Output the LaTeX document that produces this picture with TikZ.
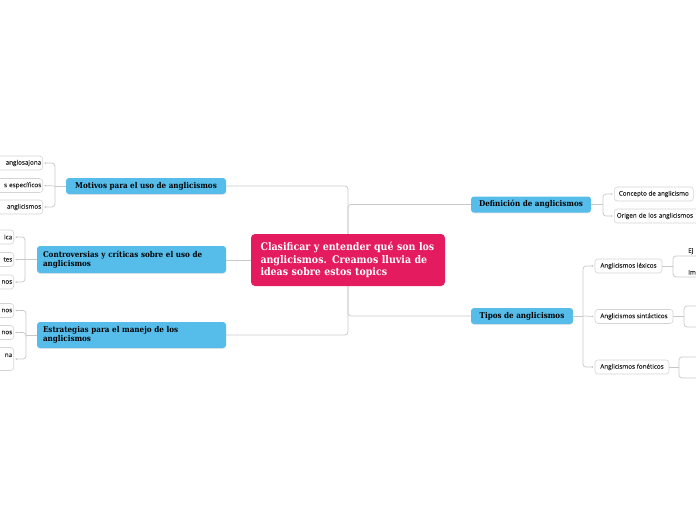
\documentclass[tikz,border=0pt]{standalone}
\usepackage{fontspec}
\setmainfont{Open Sans}
\newfontfamily\slabfont[FakeStretch=0.9]{DejaVu Serif}
\newfontfamily\leaffont[FakeBold=0.3]{Open Sans}
\usetikzlibrary{arrows.meta, shadows}
\definecolor{centralcolor}{RGB}{228, 27, 94}
\definecolor{topiccolor}{RGB}{86, 189, 235}
\definecolor{linkcolor}{RGB}{200, 200, 200}
\definecolor{leafborder}{RGB}{212, 212, 212}
\definecolor{leaftext}{RGB}{40, 40, 40}

\begin{document}
\begin{tikzpicture}[x=1pt, y=-1pt,
    central/.style={fill=centralcolor, rounded corners=4pt, text=white, inner sep=0pt, align=left,
        font=\slabfont\bfseries\fontsize{10.5}{12.5}\selectfont},
    topic/.style={fill=topiccolor, rounded corners=3pt, inner sep=0pt, minimum height=16pt,
        font=\slabfont\bfseries\fontsize{8}{9.3}\selectfont,
        drop shadow={shadow xshift=0pt, shadow yshift=-0.8pt, opacity=0.2}},
    leaf/.style={draw=leafborder, fill=white, rounded corners=3pt, line width=0.6pt, inner sep=0pt,
        minimum height=14pt, text=leaftext, font=\leaffont\fontsize{6.3}{7.5}\selectfont},
    sub/.style={inner sep=0pt, text=leaftext, font=\leaffont\fontsize{6.3}{7.5}\selectfont},
    link/.style={draw=linkcolor, line width=0.7pt, rounded corners=3pt},
    dot/.style={link, -{Circle[length=1.6pt]}, shorten >=1.5pt}
]
    \useasboundingbox (0,0) rectangle (696,520);
    \clip (0,0) rectangle (696,520);

    % Central idea
    \node[central, minimum width=194pt, minimum height=52pt, text width=175pt] (ctr) at (348,260)
        {Clasificar y entender qué son los\\anglicismos. Creamos lluvia de\\ideas sobre estos topics};

    % Main topics
    \node[topic, minimum width=160pt] (mot) at (146,186) {Motivos para el uso de anglicismos};
    \node[topic, minimum width=189pt, minimum height=27pt, text width=177pt, align=left] (con) at (131.5,259.5)
        {Controversias y críticas sobre el uso de\\anglicismos};
    \node[topic, minimum width=189pt, minimum height=26pt, text width=177pt, align=left] (est) at (131.5,335)
        {Estrategias para el manejo de los\\anglicismos};
    \node[topic, minimum width=120pt] (def) at (531,204.5) {Definición de anglicismos};
    \node[topic, minimum width=102pt] (tip) at (522,316) {Tipos de anglicismos};

    % Leaves on the left
    \node[leaf, anchor=east, minimum width=80pt, text width=77pt, align=right] (m1) at (43,163) {anglosajona};
    \node[leaf, anchor=east, minimum width=80pt, text width=77pt, align=right] (m2) at (43,185.5) {s específicos};
    \node[leaf, anchor=east, minimum width=80pt, text width=77pt, align=right] (m3) at (43,207) {anglicismos};

    \node[leaf, anchor=east, minimum width=40pt, text width=37pt, align=right] (c1) at (14,237) {ica};
    \node[leaf, anchor=east, minimum width=40pt, text width=37pt, align=right] (c2) at (14,259.5) {tes};
    \node[leaf, anchor=east, minimum width=40pt, text width=37pt, align=right] (c3) at (14,282) {nos};

    \node[leaf, anchor=east, minimum width=40pt, text width=37pt, align=right] (e1) at (14,310.5) {nos};
    \node[leaf, anchor=east, minimum width=40pt, text width=37pt, align=right] (e2) at (14,332.5) {nos};
    \node[leaf, anchor=east, minimum width=40pt, minimum height=23pt, text width=37pt, align=right] (e3) at (14,359)
        {na\\ \mbox{}};

    % Leaves on the right
    \node[leaf, anchor=west, minimum width=79pt] (d1) at (614,194) {Concepto de anglicismo};
    \node[leaf, anchor=west, minimum width=95pt, text width=90pt, align=left] (d2) at (614,216) {Origen de los anglicismos};

    \node[leaf, minimum width=67pt] (lex) at (628.5,266) {Anglicismos léxicos};
    \node[leaf, minimum width=78pt] (sin) at (634,316.5) {Anglicismos sintácticos};
    \node[leaf, minimum width=74pt] (fon) at (632,367) {Anglicismos fonéticos};

    \node[sub, anchor=south west, minimum width=40pt, minimum height=9pt, text width=30pt, align=left, inner xsep=8pt] (lx1) at (680,256) {Ej};
    \node[sub, anchor=south west, minimum width=40pt, minimum height=9pt, text width=30pt, align=left, inner xsep=8pt] (lx2) at (680,277) {Im};

    % Forks
    \coordinate (motfork) at (55,186);
    \coordinate (confork) at (25,259.5);
    \coordinate (estfork) at (26,335);
    \coordinate (deffork) at (603,204.5);
    \coordinate (tipfork) at (583,316);
    \coordinate (lexfork) at (673,266);
    \coordinate (sinfork) at (684,316.5);
    \coordinate (fonfork) at (679,367);
    \coordinate (sn1) at (710,306);
    \coordinate (sn2) at (710,327);
    \coordinate (fn1) at (710,357);
    \coordinate (fn2) at (710,378);

    % Trunk
    \draw[link] (mot.east) -| (ctr.north);
    \draw[link] (ctr.north) |- (def.west);
    \draw[link] (ctr.south) |- (est.east);
    \draw[link] (ctr.south) |- (tip.west);
    \draw[link] (ctr.west) -- (ctr.west -| con.east);

    % Left brackets
    \draw[link] (mot.west) -- (motfork);
    \draw[dot] (motfork) |- (m1.east);
    \draw[dot] (motfork) -- (m2.east);
    \draw[dot] (motfork) |- (m3.east);

    \draw[link] (con.west) -- (confork);
    \draw[dot] (confork) |- (c1.east);
    \draw[dot] (confork) -- (c2.east);
    \draw[dot] (confork) |- (c3.east);

    \draw[link] (est.west) -- (estfork);
    \draw[dot] (estfork) |- (e1.east);
    \draw[dot] (estfork) |- (e2.east);
    \draw[dot] (estfork) |- (e3.east);

    % Right brackets
    \draw[link] (def.east) -- (deffork);
    \draw[dot] (deffork) |- (d1.west);
    \draw[dot] (deffork) |- (d2.west);

    \draw[link] (tip.east) -- (tipfork);
    \draw[dot] (tipfork) |- (lex.west);
    \draw[dot] (tipfork) -- (sin.west);
    \draw[dot] (tipfork) |- (fon.west);

    \draw[link] (lex.east) -- (lexfork);
    \draw[link] (lexfork) |- (lx1.south west) -- (lx1.south east);
    \draw[link] (lexfork) |- (lx2.south west) -- (lx2.south east);

    \draw[link] (sin.east) -- (sinfork);
    \draw[link] (sinfork) |- (sn1);
    \draw[link] (sinfork) |- (sn2);

    \draw[link] (fon.east) -- (fonfork);
    \draw[link] (fonfork) |- (fn1);
    \draw[link] (fonfork) |- (fn2);
\end{tikzpicture}
\end{document}
